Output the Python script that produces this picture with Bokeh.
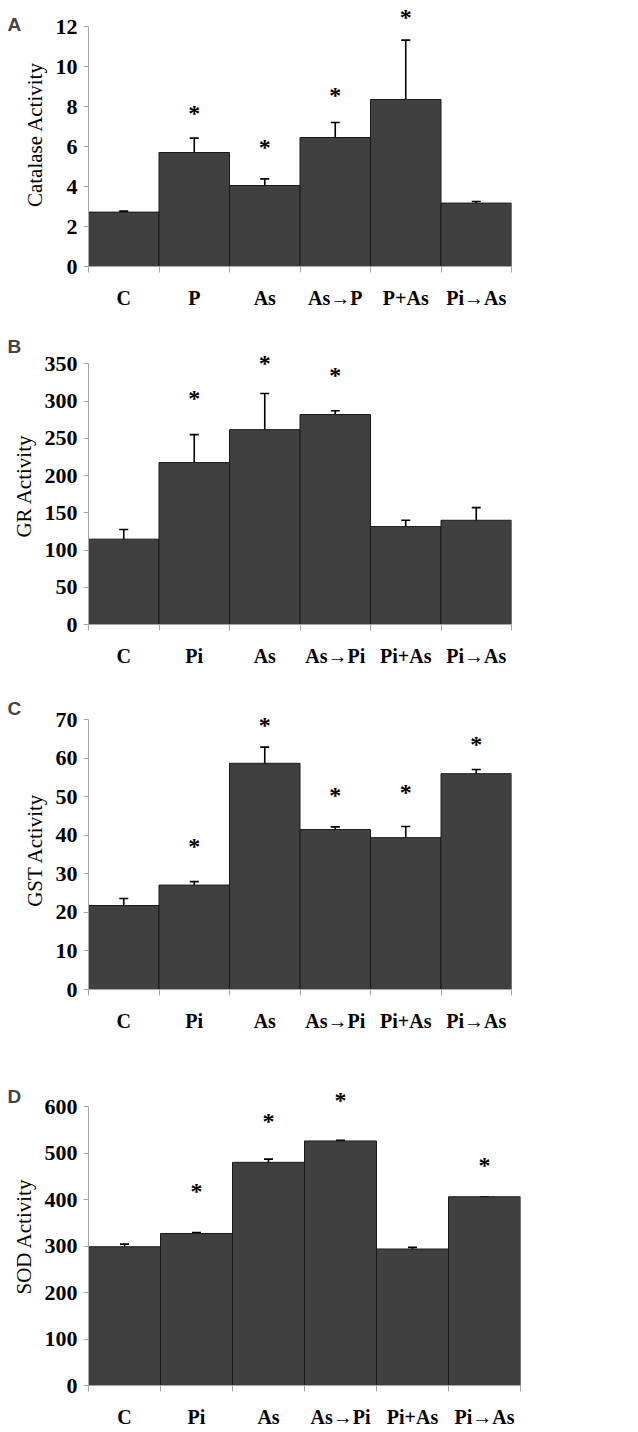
from bokeh.plotting import figure
from bokeh.layouts import column
from bokeh.models import (ColumnDataSource, Range1d, FixedTicker, Whisker, TeeHead,
                          LabelSet, Label)
from bokeh.embed import file_html
from bokeh.resources import INLINE

# ---------------- data ----------------
cats_A = ["C", "P", "As", "As→P", "P+As", "Pi→As"]
cats_BCD = ["C", "Pi", "As", "As→Pi", "Pi+As", "Pi→As"]

catalase = [2.72, 5.7, 4.05, 6.45, 8.35, 3.17]
catalase_err = [0.05, 0.72, 0.33, 0.75, 2.97, 0.08]
catalase_star = [None, 7.9, 6.2, 8.8, 12.7, None]

gr = [114.6, 217.5, 261.7, 282.0, 131.5, 140.0]
gr_err = [13.0, 37.5, 48.5, 5.0, 8.5, 17.0]
gr_star = [None, 310, 357, 341, None, None]

gst = [21.8, 27.1, 58.7, 41.5, 39.4, 56.0]
gst_err = [1.8, 0.9, 4.2, 0.7, 2.9, 1.1]
gst_star = [None, 38.4, 69.6, 51.4, 52.3, 64.8]

sod = [298.5, 327.0, 480.0, 526.0, 293.6, 406.0]
sod_err = [5.5, 2.0, 7.0, 1.5, 3.5, 0.0]
sod_star = [None, 427, 578, 623, None, 483]

SERIF = "Liberation Serif"
SANS = "Liberation Sans"


def panel(letter, cats, vals, errs, stars, ytitle, ymax, ystep, yend,
          top, fh, bottom, fw, letter_dy):
    n = len(cats)
    xs = list(range(1, n + 1))
    p = figure(frame_width=fw, frame_height=fh, output_backend="svg",
               toolbar_location=None, x_range=Range1d(0.5, n + 0.5),
               y_range=Range1d(0, yend))
    p.min_border_left = 88
    p.min_border_right = 636 - 88 - fw
    p.min_border_top = top
    p.min_border_bottom = bottom
    p.outline_line_color = None
    p.grid.visible = False
    p.background_fill_color = "white"

    src = ColumnDataSource(dict(x=xs, top=vals,
                                lower=[v - e for v, e in zip(vals, errs)],
                                upper=[v + e for v, e in zip(vals, errs)]))
    p.vbar(x="x", top="top", width=1.0, source=src, fill_color="#404040",
           line_color="#1a1a1a", line_width=1)
    p.add_layout(Whisker(source=src, base="x", lower="lower", upper="upper",
                         line_color="black", line_width=1.6,
                         upper_head=TeeHead(size=9, line_color="black", line_width=1.6),
                         lower_head=TeeHead(size=9, line_color="black", line_width=1.6)))

    sx = [x for x, s in zip(xs, stars) if s is not None]
    sy = [s for s in stars if s is not None]
    ssrc = ColumnDataSource(dict(x=sx, y=sy, t=["*"] * len(sx)))
    p.add_layout(LabelSet(x="x", y="y", text="t", source=ssrc,
                          text_font="DejaVu Sans", text_font_style="bold",
                          text_font_size="24px", text_align="center",
                          text_color="black",
                          text_baseline="middle", y_offset=-4))

    # x axis
    xa = p.xaxis[0]
    xa.ticker = FixedTicker(ticks=xs, minor_ticks=[x - 0.5 for x in xs] + [n + 0.5])
    xa.major_label_overrides = {x: c for x, c in zip(xs, cats)}
    xa.major_tick_line_color = None
    xa.major_tick_out = 0
    xa.major_tick_in = 0
    xa.minor_tick_out = 6
    xa.minor_tick_in = 0
    xa.minor_tick_line_color = "#a6a6a6"
    xa.axis_line_color = "#a6a6a6"
    xa.major_label_text_font = SERIF
    xa.major_label_text_font_style = "bold"
    xa.major_label_text_font_size = "20px"
    xa.major_label_text_color = "black"
    xa.major_label_standoff = 14

    # y axis
    ya = p.yaxis[0]
    ya.ticker = FixedTicker(ticks=list(range(0, ymax + 1, ystep)))
    ya.bounds = (0, ymax)
    ya.minor_tick_line_color = None
    ya.major_tick_out = 5
    ya.major_tick_in = 0
    ya.major_tick_line_color = "#a6a6a6"
    ya.axis_line_color = "#a6a6a6"
    ya.major_label_text_font = SERIF
    ya.major_label_text_font_style = "bold"
    ya.major_label_text_font_size = "22px"
    ya.major_label_text_color = "black"
    ya.major_label_standoff = 6
    ya.axis_label = ytitle
    ya.axis_label_text_font = SERIF
    ya.axis_label_text_font_style = "normal"
    ya.axis_label_text_font_size = "21px"
    ya.axis_label_text_color = "black"
    ya.axis_label_standoff = 6

    # panel letter, placed in the right side panel (not clipped), measured from the frame
    p.add_layout(Label(x=-(fw + 81), y=fh + letter_dy, x_units="screen", y_units="screen",
                       text=letter, text_font=SANS, text_font_style="bold",
                       text_font_size="19px", text_baseline="alphabetic"), "right")
    return p


pA = panel("A", cats_A, catalase, catalase_err, catalase_star, "Catalase Activity",
           12, 2, 13.2, 2, 264, 58, 423, -22)
pB = panel("B", cats_BCD, gr, gr_err, gr_star, "GR Activity",
           350, 50, 372, 23, 277, 60, 423, 1)
pC = panel("C", cats_BCD, gst, gst_err, gst_star, "GST Activity",
           70, 10, 72.4, 26, 279, 85, 423, 2)
pD = panel("D", cats_BCD, sod, sod_err, sod_star, "SOD Activity",
           600, 100, 641, 13, 298, 40, 432, -9)

layout = column(pA, pB, pC, pD, spacing=0)
open("out.html", "w").write(file_html(layout, INLINE))
